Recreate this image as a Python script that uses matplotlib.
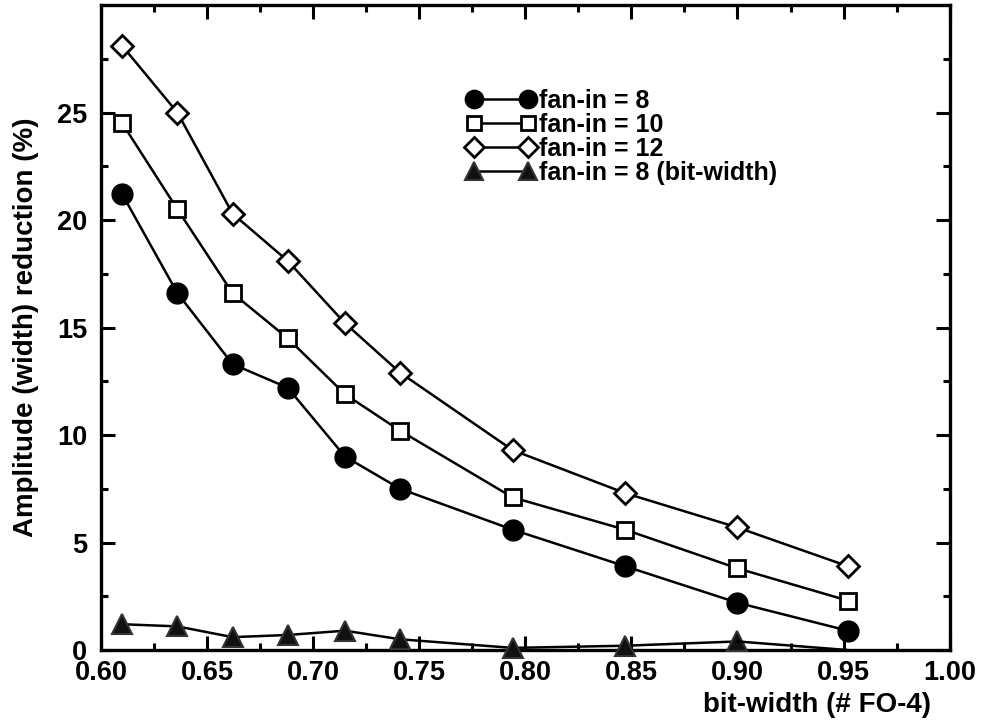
import matplotlib
matplotlib.use('Agg')
import matplotlib.pyplot as plt
from matplotlib.ticker import MultipleLocator

plt.rcParams['font.family'] = 'Liberation Sans'
plt.rcParams['font.weight'] = 'bold'

# data
x = [0.610, 0.636, 0.662, 0.688, 0.715, 0.741, 0.794, 0.847, 0.900, 0.952]
fan8 = [21.2, 16.6, 13.3, 12.2, 9.0, 7.5, 5.6, 3.9, 2.2, 0.9]
fan10 = [24.5, 20.5, 16.6, 14.5, 11.9, 10.2, 7.1, 5.6, 3.8, 2.3]
fan12 = [28.1, 25.0, 20.3, 18.1, 15.2, 12.9, 9.3, 7.3, 5.7, 3.9]
fan8_bw = [1.2, 1.1, 0.6, 0.7, 0.9, 0.5, 0.1, 0.2, 0.4, 0.0]
labels = ['fan-in = 8', 'fan-in = 10', 'fan-in = 12', 'fan-in = 8 (bit-width)']
xticks = [0.60, 0.65, 0.70, 0.75, 0.80, 0.85, 0.90, 0.95, 1.00]
yticks = [0, 5, 10, 15, 20, 25]

fig = plt.figure(figsize=(9.81, 7.25), dpi=100)
ax = fig.add_axes([0.103, 0.1034, 0.865, 0.8896])

lw = 1.8
ax.plot(x, fan8, '-o', color='black', lw=lw, ms=15, mfc='black', mec='black',
        label=labels[0], clip_on=False, zorder=3)
ax.plot(x, fan10, '-s', color='black', lw=lw, ms=12, mfc='white', mec='black',
        mew=2, label=labels[1], clip_on=False, zorder=3)
ax.plot(x, fan12, '-D', color='black', lw=lw, ms=11, mfc='white', mec='black',
        mew=2, label=labels[2], clip_on=False, zorder=3)
ax.plot(x[:-1], fan8_bw[:-1], '-^', color='black', lw=lw, ms=15, mfc='#111111',
        mec='#333333', mew=1.5, label=labels[3], clip_on=False, zorder=3)
ax.plot(x[-2:], fan8_bw[-2:], '-', color='black', lw=lw, zorder=3)

ax.set_xlim(0.60, 1.00)
ax.set_ylim(0, 30)
ax.xaxis.set_minor_locator(MultipleLocator(0.025))
ax.yaxis.set_minor_locator(MultipleLocator(2.5))
ax.set_xticks(xticks)
ax.set_xticklabels(['%.2f' % v for v in xticks])
ax.set_yticks(yticks)
ax.tick_params(which='both', direction='in', top=True, right=True, width=2.2,
               labelsize=19.5)
ax.tick_params(axis='x', pad=7)
ax.tick_params(axis='y', pad=10)
ax.tick_params(which='major', length=10)
ax.tick_params(which='minor', length=5)
for s in ax.spines.values():
    s.set_linewidth(2.4)

ax.set_ylabel('Amplitude (width) reduction (%)', fontsize=20, fontweight='bold',
              va='center')
ax.yaxis.set_label_coords(-0.088, 0.5)
fig.text(0.949, 0.028, 'bit-width (# FO-4)', ha='right', va='center',
         fontsize=20, fontweight='bold')

ax.legend(loc='upper left', bbox_to_anchor=(0.4307, 0.870), frameon=False,
          numpoints=2, handlelength=2.76, handletextpad=0.15, labelspacing=0.0,
          markerscale=0.88, borderaxespad=0, borderpad=0,
          prop={'size': 18, 'weight': 'bold'})

fig.savefig('out.png', dpi=100)
